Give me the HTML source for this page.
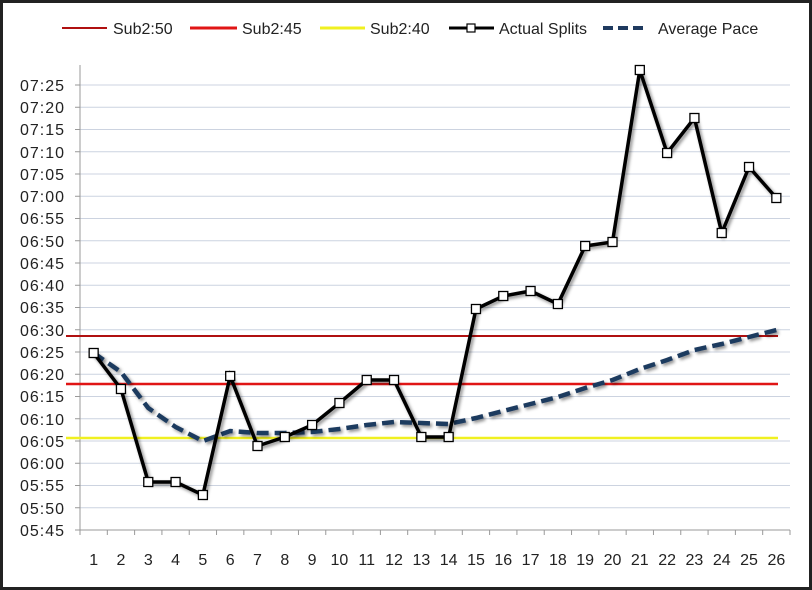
<!DOCTYPE html>
<html><head><style>
body{margin:0;background:#fff}
svg{display:block;font-family:"Liberation Sans",sans-serif}
</style></head><body>
<svg width="812" height="590" viewBox="0 0 812 590">
<defs><filter id="s" x="-5%" y="-5%" width="110%" height="110%"><feDropShadow dx="2" dy="2" stdDeviation="1.5" flood-opacity="0.45"/></filter></defs>
<rect x="1.5" y="1.5" width="809" height="587" fill="#fff" stroke="#222" stroke-width="3"/>
<g stroke="#ccd3e0" stroke-width="1">
<line x1="80" y1="85" x2="790" y2="85"/><line x1="80" y1="107.25" x2="790" y2="107.25"/><line x1="80" y1="129.5" x2="790" y2="129.5"/><line x1="80" y1="151.75" x2="790" y2="151.75"/><line x1="80" y1="174" x2="790" y2="174"/><line x1="80" y1="196.25" x2="790" y2="196.25"/><line x1="80" y1="218.5" x2="790" y2="218.5"/><line x1="80" y1="240.75" x2="790" y2="240.75"/><line x1="80" y1="263" x2="790" y2="263"/><line x1="80" y1="285.25" x2="790" y2="285.25"/><line x1="80" y1="307.5" x2="790" y2="307.5"/><line x1="80" y1="329.75" x2="790" y2="329.75"/><line x1="80" y1="352" x2="790" y2="352"/><line x1="80" y1="374.25" x2="790" y2="374.25"/><line x1="80" y1="396.5" x2="790" y2="396.5"/><line x1="80" y1="418.75" x2="790" y2="418.75"/><line x1="80" y1="441" x2="790" y2="441"/><line x1="80" y1="463.25" x2="790" y2="463.25"/><line x1="80" y1="485.5" x2="790" y2="485.5"/><line x1="80" y1="507.75" x2="790" y2="507.75"/>
</g>
<g stroke="#999" stroke-width="1">
<line x1="80" y1="65" x2="80" y2="530"/><line x1="80" y1="530" x2="790" y2="530"/>
</g>
<g font-size="16" fill="#222" text-anchor="end" letter-spacing="1">
<text x="65" y="91">07:25</text><text x="65" y="113">07:20</text><text x="65" y="135">07:15</text><text x="65" y="158">07:10</text><text x="65" y="180">07:05</text><text x="65" y="202">07:00</text><text x="65" y="224">06:55</text><text x="65" y="247">06:50</text><text x="65" y="269">06:45</text><text x="65" y="291">06:40</text><text x="65" y="313">06:35</text><text x="65" y="336">06:30</text><text x="65" y="358">06:25</text><text x="65" y="380">06:20</text><text x="65" y="402">06:15</text><text x="65" y="425">06:10</text><text x="65" y="447">06:05</text><text x="65" y="469">06:00</text><text x="65" y="491">05:55</text><text x="65" y="514">05:50</text><text x="65" y="536">05:45</text>
</g>
<g font-size="16" fill="#222" text-anchor="middle" id="xl"></g>
<line x1="66" y1="336" x2="778" y2="336" stroke="#b01010" stroke-width="2"/>
<line x1="66" y1="384" x2="778" y2="384" stroke="#e01515" stroke-width="2.5"/>
<line x1="66" y1="438" x2="778" y2="438" stroke="#f0f020" stroke-width="2.5"/>
<polyline id="avg" fill="none" stroke="#1f3a5f" stroke-width="4.5" stroke-dasharray="12,6" filter="url(#s)"/>
<polyline id="act" fill="none" stroke="#000" stroke-width="3.5" filter="url(#s)"/>
<g id="mk"></g>
<g font-size="16" fill="#222">
<line x1="62" y1="28" x2="107" y2="28" stroke="#b01010" stroke-width="2"/><text x="113" y="34">Sub2:50</text>
<line x1="190" y1="28" x2="237" y2="28" stroke="#e01515" stroke-width="3"/><text x="242" y="34">Sub2:45</text>
<line x1="320" y1="28" x2="365" y2="28" stroke="#f0f020" stroke-width="3"/><text x="370" y="34">Sub2:40</text>
<line x1="449" y1="28" x2="494" y2="28" stroke="#000" stroke-width="3"/><rect x="467" y="24" width="8" height="8" fill="#fff" stroke="#000" stroke-width="1.2"/><text x="499" y="34">Actual Splits</text>
<line x1="603" y1="28" x2="648" y2="28" stroke="#1f3a5f" stroke-width="4" stroke-dasharray="10,5"/><text x="658" y="34">Average Pace</text>
</g>
</svg>
<script>
var act=[353,389,482,482,495,376,446,437,425,403,380,380,437,437,309,296,291,304,246,242,70,153,118,233,167,198];
var avg=[353,372,408,427,441,431,433,433,432,429,425,422,423,424,418,411,404,397,388,380,369,360,350,344,337,330];
var ns="http://www.w3.org/2000/svg",w=710/26;
function X(i){return 80+w*(i+0.5);}
document.getElementById('act').setAttribute('points',act.map((y,i)=>X(i)+','+y).join(' '));
document.getElementById('avg').setAttribute('points',avg.map((y,i)=>X(i)+','+y).join(' '));
var mk=document.getElementById('mk'),xl=document.getElementById('xl');
act.forEach(function(y,i){var r=document.createElementNS(ns,'rect');r.setAttribute('x',X(i)-4.5);r.setAttribute('y',y-4.5);r.setAttribute('width',9);r.setAttribute('height',9);r.setAttribute('fill','#fff');r.setAttribute('stroke','#000');r.setAttribute('stroke-width','1.3');mk.appendChild(r);
var t=document.createElementNS(ns,'text');t.setAttribute('x',X(i));t.setAttribute('y',565);t.textContent=i+1;xl.appendChild(t);});
for(var i=0;i<=26;i++){var l=document.createElementNS(ns,'line');l.setAttribute('x1',80+w*i);l.setAttribute('x2',80+w*i);l.setAttribute('y1',530);l.setAttribute('y2',535);l.setAttribute('stroke','#999');xl.appendChild(l);}
for(var j=0;j<21;j++){var l=document.createElementNS(ns,'line');l.setAttribute('x1',75);l.setAttribute('x2',80);l.setAttribute('y1',85+22.25*j);l.setAttribute('y2',85+22.25*j);l.setAttribute('stroke','#999');xl.appendChild(l);}
</script>
</body></html>
